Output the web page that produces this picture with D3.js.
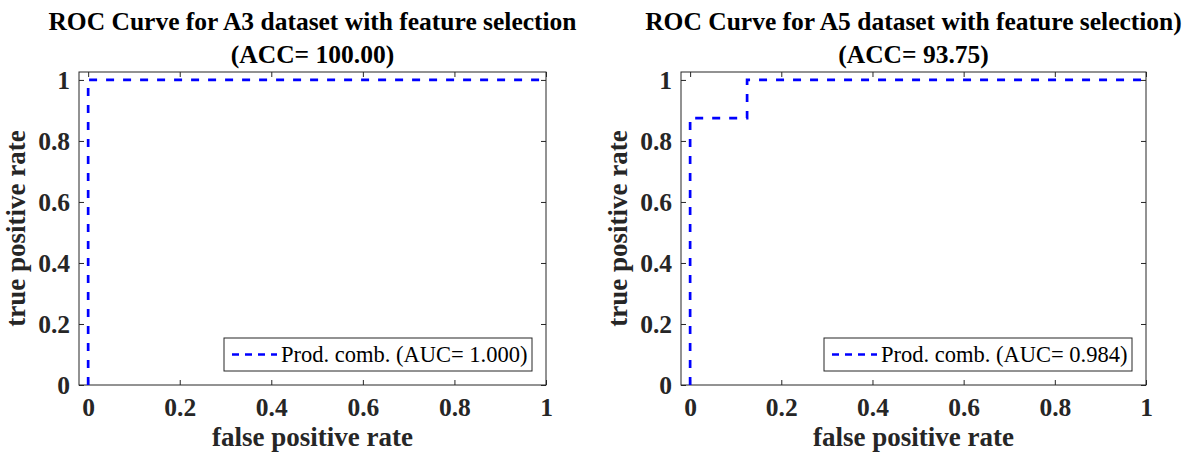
<!DOCTYPE html>
<html lang="en">
<head>
    <meta charset="UTF-8">
    <title>ROC Curves</title>
    <script src="https://cdn.jsdelivr.net/npm/d3@7/dist/d3.min.js"></script>
    <style>
        body { margin: 0; background: #fff; }
        svg text { font-family: "Liberation Serif", "Times New Roman", serif; }
        .tick-label { font-size: 25.5px; font-weight: bold; fill: #262626; }
        .axis-label { font-size: 27px; font-weight: bold; fill: #262626; }
        .title { font-size: 25.5px; font-weight: bold; fill: #000; }
        .legend-text { font-size: 22.5px; fill: #000; }
    </style>
</head>
<body>
<div id="chart"></div>
<script>
    // datos de los dos paneles
    var titles = [
        ["ROC Curve for A3 dataset with feature selection", "(ACC= 100.00)"],
        ["ROC Curve for A5 dataset with feature selection)", "(ACC= 93.75)"]
    ];
    var legendLabels = ["Prod. comb. (AUC= 1.000)", "Prod. comb. (AUC= 0.984)"];

    var rocA3 = [
        { fpr: 0, tpr: 0 },
        { fpr: 0, tpr: 1 },
        { fpr: 1, tpr: 1 }
    ];
    var rocA5 = [
        { fpr: 0, tpr: 0 },
        { fpr: 0, tpr: 0.875 },
        { fpr: 0.125, tpr: 0.875 },
        { fpr: 0.125, tpr: 1 },
        { fpr: 1, tpr: 1 }
    ];
    var tickValues = [0, 0.2, 0.4, 0.6, 0.8, 1];
    var tickLabels = ["0", "0.2", "0.4", "0.6", "0.8", "1"];

    var panels = [
        { left: 79, right: 546, data: rocA3, title: titles[0], legend: legendLabels[0] },
        { left: 681, right: 1146, data: rocA5, title: titles[1], legend: legendLabels[1] }
    ];
    var plotTop = 72, plotBottom = 385;

    var svg = d3.select("#chart").append("svg")
        .attr("width", 1203)
        .attr("height", 457);

    panels.forEach(function(p) {
        var x = d3.scaleLinear().domain([-0.02, 1]).range([p.left, p.right]);
        var y = d3.scaleLinear().domain([0, 1.026]).range([plotBottom, plotTop]);
        var g = svg.append("g");
        var w = p.right - p.left;

        // caja de ejes
        g.append("rect")
            .attr("x", p.left).attr("y", plotTop)
            .attr("width", w).attr("height", plotBottom - plotTop)
            .attr("fill", "none").attr("stroke", "#262626").attr("stroke-width", 1);

        // ticks hacia dentro en los cuatro lados
        var fmt = function(d, i) { return tickLabels[i]; };
        g.append("g").attr("transform", "translate(0," + plotBottom + ")")
            .call(d3.axisBottom(x).tickValues(tickValues).tickFormat(fmt).tickSizeInner(-5).tickSizeOuter(0).tickPadding(13));
        g.append("g").attr("transform", "translate(0," + plotTop + ")")
            .call(d3.axisTop(x).tickValues(tickValues).tickFormat("").tickSizeInner(-5).tickSizeOuter(0));
        g.append("g").attr("transform", "translate(" + p.left + ",0)")
            .call(d3.axisLeft(y).tickValues(tickValues).tickFormat(fmt).tickSizeInner(-5).tickSizeOuter(0).tickPadding(9));
        g.append("g").attr("transform", "translate(" + p.right + ",0)")
            .call(d3.axisRight(y).tickValues(tickValues).tickFormat("").tickSizeInner(-5).tickSizeOuter(0));
        g.selectAll(".domain").remove();
        g.selectAll(".tick line").attr("stroke", "#262626");
        g.selectAll(".tick text").attr("class", "tick-label").attr("font-family", null).attr("font-size", null).attr("fill", null);

        // curva ROC
        var line = d3.line().x(function(d) { return x(d.fpr); }).y(function(d) { return y(d.tpr); });
        g.append("path")
            .datum(p.data)
            .attr("d", line)
            .attr("fill", "none")
            .attr("stroke", "#0000ff")
            .attr("stroke-width", 2.7)
            .attr("stroke-dasharray", "8,9");

        // titulo
        var cx = p.left + w / 2;
        g.append("text").attr("class", "title").attr("x", cx).attr("y", 30)
            .attr("text-anchor", "middle").text(p.title[0]);
        g.append("text").attr("class", "title").attr("x", cx).attr("y", 63)
            .attr("text-anchor", "middle").text(p.title[1]);

        // etiquetas de ejes
        g.append("text").attr("class", "axis-label").attr("x", cx).attr("y", 446)
            .attr("text-anchor", "middle").text("false positive rate");
        g.append("text").attr("class", "axis-label")
            .attr("transform", "translate(" + (p.left - 54) + "," + ((plotTop + plotBottom) / 2) + ") rotate(-90)")
            .attr("text-anchor", "middle").text("true positive rate");

        // leyenda
        var lx = p.right - 322, ly = 338;
        g.append("rect").attr("x", lx).attr("y", ly).attr("width", 308).attr("height", 33)
            .attr("fill", "#fff").attr("stroke", "#262626").attr("stroke-width", 1);
        g.append("line").attr("x1", lx + 8).attr("x2", lx + 53).attr("y1", ly + 16.5).attr("y2", ly + 16.5)
            .attr("stroke", "#0000ff").attr("stroke-width", 2.7).attr("stroke-dasharray", "7,6");
        g.append("text").attr("class", "legend-text").attr("x", lx + 57).attr("y", ly + 24)
            .text(p.legend);
    });
</script>
</body>
</html>
